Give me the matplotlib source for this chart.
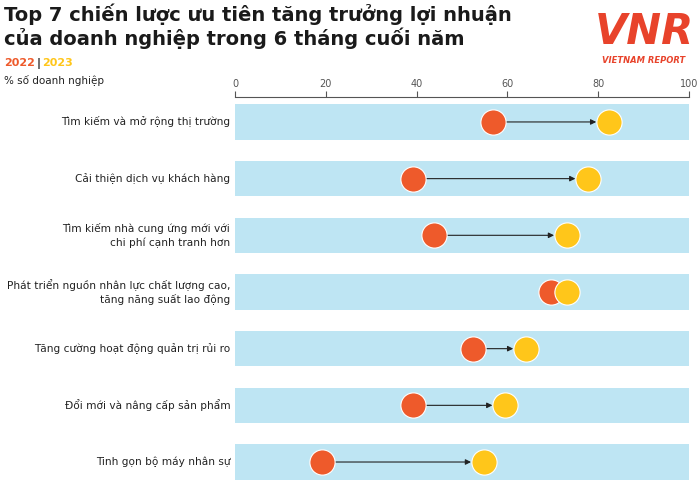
import matplotlib.pyplot as plt
from matplotlib.transforms import blended_transform_factory

categories = [
    "Tìm kiếm và mở rộng thị trường",
    "Cải thiện dịch vụ khách hàng",
    "Tìm kiếm nhà cung ứng mới với\nchi phí cạnh tranh hơn",
    "Phát triển nguồn nhân lực chất lượng cao,\ntăng năng suất lao động",
    "Tăng cường hoạt động quản trị rủi ro",
    "Đổi mới và nâng cấp sản phẩm",
    "Tinh gọn bộ máy nhân sự",
]
v2022 = [56.8, 39.2, 43.8, 69.6, 52.4, 39.2, 19.2]
v2023 = [82.4, 77.8, 73.1, 73.1, 64.1, 59.5, 54.8]
ticks = [0, 20, 40, 60, 80, 100]

RED = "#EE5A2B"
YEL = "#FFC61A"
BAR = "#BEE5F3"

fig = plt.figure(figsize=(7, 4.95), dpi=100)
ax = fig.add_axes([0.336, 0.03, 0.648, 0.774])
ax.set_xlim(0, 100)
ax.set_ylim(6.32, -0.44)

for i, (a, b) in enumerate(zip(v2022, v2023)):
    ax.barh(i, 101, left=0, height=0.62, color=BAR, zorder=1)
    ax.annotate("", xy=(b - 2.2, i), xytext=(a, i),
                arrowprops=dict(arrowstyle="-|>", color="#222222", lw=0.8,
                                mutation_scale=8), zorder=2)
    ax.scatter([a], [i], s=330, color=RED, edgecolor="white", lw=0.8, zorder=3)
    ax.scatter([b], [i], s=330, color=YEL, edgecolor="white", lw=0.8, zorder=4)

tr = blended_transform_factory(fig.transFigure, ax.transData)
for i, c in enumerate(categories):
    fig.text(0.329, i, c, transform=tr, ha="right", va="center",
             fontsize=7.6, color="#222222", linespacing=1.35)

ax.xaxis.tick_top()
ax.set_xticks(ticks)
ax.tick_params(axis="x", length=4, labelsize=7, colors="#555555", pad=2)
ax.set_yticks([])
for s in ["left", "right", "bottom"]:
    ax.spines[s].set_visible(False)
ax.spines["top"].set_color("#555555")
ax.spines["top"].set_linewidth(0.8)

fig.text(0.006, 0.972, "Top 7 chiến lược ưu tiên tăng trưởng lợi nhuận",
         fontsize=14, fontweight="bold", color="#1a1a1a", va="center")
fig.text(0.006, 0.922, "của doanh nghiệp trong 6 tháng cuối năm",
         fontsize=14, fontweight="bold", color="#1a1a1a", va="center")
fig.text(0.006, 0.872, "2022", fontsize=8, fontweight="bold", color=RED, va="center")
fig.text(0.052, 0.872, "|", fontsize=8, fontweight="bold", color="#222222", va="center")
fig.text(0.060, 0.872, "2023", fontsize=8, fontweight="bold", color=YEL, va="center")
fig.text(0.006, 0.838, "% số doanh nghiệp", fontsize=7.5, color="#222222", va="center")

fig.text(0.92, 0.935, "VNR", fontsize=30, fontstyle="italic", fontweight="bold",
         color="#E8432B", ha="center", va="center")
fig.text(0.92, 0.877, "VIETNAM REPORT", fontsize=6, fontstyle="italic",
         fontweight="bold", color="#E8432B", ha="center", va="center")

fig.savefig("out.png", dpi=100)
